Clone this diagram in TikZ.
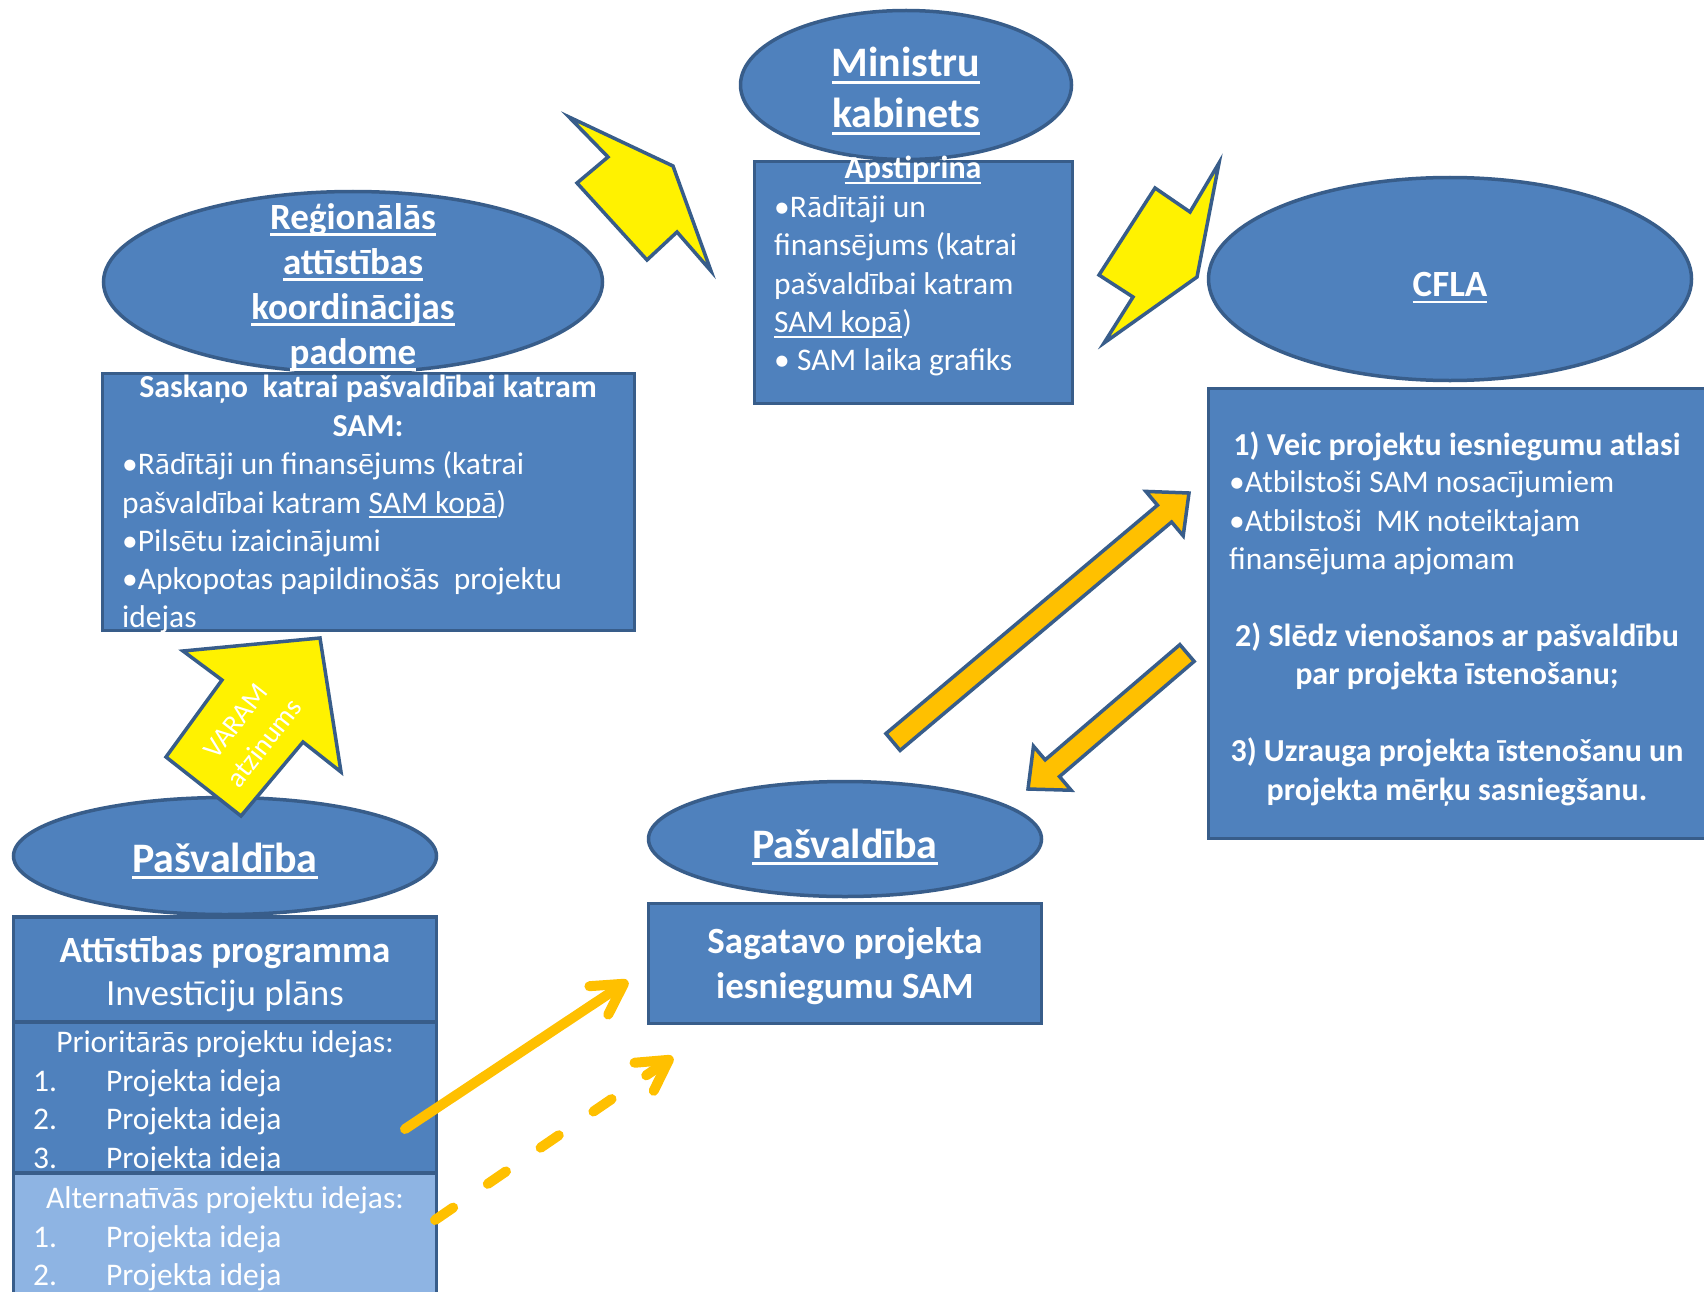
\documentclass[tikz,border=0pt]{standalone}
\usepackage{fontspec}
\setmainfont{Carlito}
\usetikzlibrary{positioning,calc,arrows.meta,shapes.geometric}
\definecolor{boxblue}{RGB}{79,129,189}
\definecolor{boxline}{RGB}{56,93,138}
\definecolor{altblue}{RGB}{142,180,227}
\definecolor{arroworange}{RGB}{255,192,0}
\newcommand{\ulx}[1]{\leavevmode\setbox0\hbox{#1}\rlap{\rule[-0.17em]{\wd0}{0.07em}}\box0}
\newcommand{\numitem}[1]{\makebox[73pt][l]{#1}}
% block arrow from tail #1 to tip #2
\newcommand{\blockarrow}[2]{%
  \coordinate (#1-h) at ($(#2)!32pt!(#1)$);
  \draw[blockorange] ($(#1)!11pt!90:(#2)$) -- ($(#1-h)!11pt!90:(#2)$) -- ($(#1-h)!29pt!90:(#2)$)
    -- (#2) -- ($(#1-h)!29pt!-90:(#2)$) -- ($(#1-h)!11pt!-90:(#2)$) -- ($(#1)!11pt!-90:(#2)$) -- cycle;}
\tikzset{
    every node/.style={font=\fontsize{31.5}{38.3}\selectfont, text=white, inner sep=0pt},
    bluecycle/.style={ellipse, draw=boxline, fill=boxblue, line width=3.5pt},
    bluerect/.style={rectangle, draw=boxline, fill=boxblue, line width=3.5pt},
    bigtitle/.style={font=\fontsize{42}{51}\selectfont\bfseries, align=center},
    midtitle/.style={font=\fontsize{37}{45}\selectfont\bfseries, align=center},
    boldtext/.style={font=\fontsize{32}{38.3}\selectfont\bfseries, align=center},
    listtext/.style={align=left, anchor=west},
    yellowbolt/.style={draw=boxline, fill=yellow, line width=3.5pt},
    blockorange/.style={draw=boxline, fill=arroworange, line width=3.5pt},
    arrow/.style={-{Straight Barb[length=30pt,width=34pt,round]}, draw=arroworange, line width=10pt, line cap=round},
}
\begin{document}
\begin{tikzpicture}[x=1pt, y=-1pt]
\useasboundingbox (0,0) rectangle (1704,1292);
\clip (0,0) rectangle (1704,1292);
\fill[white] (0,0) rectangle (1704,1292);

% Ministru kabinets
\node[bluecycle, minimum width=331pt, minimum height=149pt] (mkEll) at (906,85) {};
\node[bluerect, minimum width=318pt, minimum height=242pt] (mkBox) at (913.5,282.5) {};
\node[bigtitle] (mkTitle) at (906,91) {\ulx{Ministru}\\\ulx{kabinets}};
\node[boldtext] (mkHead) at (913,170) {\ulx{Apstiprina}};
\node[listtext] (mkList) at (774,286) {•Rādītāji un\\finansējums (katrai\\pašvaldībai katram\\\ulx{SAM kopā})\\• SAM laika grafiks};

% Regionalas attistibas koordinacijas padome
\node[bluecycle, minimum width=499pt, minimum height=181pt] (rakpEll) at (353,282) {};
\node[bluerect, minimum width=532pt, minimum height=257pt] (rakpBox) at (368.5,502) {};
\node[midtitle] (rakpTitle) at (353,287) {\ulx{Reģionālās}\\\ulx{attīstības}\\\ulx{koordinācijas}\\\ulx{padome}};
\node[boldtext] (rakpHead) at (368,406) {Saskaņo~ katrai pašvaldībai katram\\SAM:};
\node[listtext] (rakpList) at (122,542.5) {•Rādītāji un finansējums (katrai\\pašvaldībai katram \ulx{SAM kopā})\\•Pilsētu izaicinājumi\\•Apkopotas papildinošās~ projektu\\idejas};

% CFLA
\node[bluecycle, minimum width=483pt, minimum height=203pt] (cflaEll) at (1450,279) {};
\node[bluerect, minimum width=498pt, minimum height=450pt] (cflaBox) at (1457.5,613.5) {};
\node[midtitle] (cflaTitle) at (1450,288) {\ulx{CFLA}};
\node[boldtext] (cflaStep1) at (1457,446) {1) Veic projektu iesniegumu atlasi};
\node[listtext] (cflaList) at (1229,523) {•Atbilstoši SAM nosacījumiem\\•Atbilstoši~ MK noteiktajam\\finansējuma apjomam};
\node[boldtext] (cflaStep2) at (1457,656) {2) Slēdz vienošanos ar pašvaldību\\par projekta īstenošanu;};
\node[boldtext] (cflaStep3) at (1457,772) {3) Uzrauga projekta īstenošanu un\\projekta mērķu sasniegšanu.};

% Pasvaldiba (left)
\node[bluecycle, minimum width=423pt, minimum height=117pt] (pasvEll) at (225,856) {};
\node[bigtitle] (pasvTitle) at (225,861) {\ulx{Pašvaldība}};
\node[bluerect, minimum width=423pt, minimum height=105pt] (progBox) at (225,969.5) {};
\node[align=center, font=\fontsize{37}{43.5}\selectfont] (progText) at (225,974) {{\bfseries Attīstības programma}\\Investīciju plāns};
\node[bluerect, minimum width=423pt, minimum height=151pt] (prioBox) at (225,1097.5) {};
\node (prioHead) at (225,1044) {Prioritārās projektu idejas:};
\node[listtext] (prioList) at (33,1121.5) {\numitem{1.}Projekta ideja\\\numitem{2.}Projekta ideja\\\numitem{3.}Projekta ideja};
\node[bluerect, fill=altblue, minimum width=423pt, minimum height=150pt] (altBox) at (225,1248) {};
\node (altHead) at (225,1200) {Alternatīvās projektu idejas:};
\node[listtext] (altList) at (33,1258.5) {\numitem{1.}Projekta ideja\\\numitem{2.}Projekta ideja};

% Pasvaldiba (middle)
\node[bluecycle, minimum width=393pt, minimum height=115pt] (sagEll) at (845,839) {};
\node[bigtitle] (sagTitle) at (845,847) {\ulx{Pašvaldība}};
\node[bluerect, minimum width=393pt, minimum height=120pt] (sagBox) at (845,963.5) {};
\node[align=center, font=\fontsize{37}{44.5}\selectfont\bfseries] (sagText) at (845,966) {Sagatavo projekta\\iesniegumu SAM};

% yellow arrows
\draw[yellowbolt] (569,117) -- (673,166) -- (711,271) -- (677,232) -- (647,260) -- (577,183) -- (608,157) -- cycle;
\draw[yellowbolt] (1219,163) -- (1197,277) -- (1104,343) -- (1133,297) -- (1099,275) -- (1155,188) -- (1190,212) -- cycle;
\draw[yellowbolt] (320,638) -- (341,772) -- (303,742) -- (241,816) -- (166,757) -- (222,680) -- (183,651) -- cycle;
\node[rotate=52, align=center, font=\fontsize{28}{36}\selectfont] (varamText) at (250,732) {VARAM\\atzinums};

% orange block arrows between CFLA and Pasvaldiba
\coordinate (sagOut) at (893,742);
\coordinate (cflaIn) at (1189,493);
\coordinate (cflaOut) at (1187,653);
\coordinate (sagIn) at (1028,789);
\blockarrow{sagOut}{cflaIn}
\blockarrow{cflaOut}{sagIn}

% project ideas to the middle Pasvaldiba
\coordinate (prioOut) at (405,1129);
\coordinate (sagPrio) at (628,981);
\coordinate (altOut) at (435,1220);
\coordinate (sagAlt) at (673,1057);
\draw[arrow] (prioOut) -- (sagPrio);
\draw[arrow, dash pattern=on 22pt off 42pt] (altOut) -- (sagAlt);
\end{tikzpicture}
\end{document}
